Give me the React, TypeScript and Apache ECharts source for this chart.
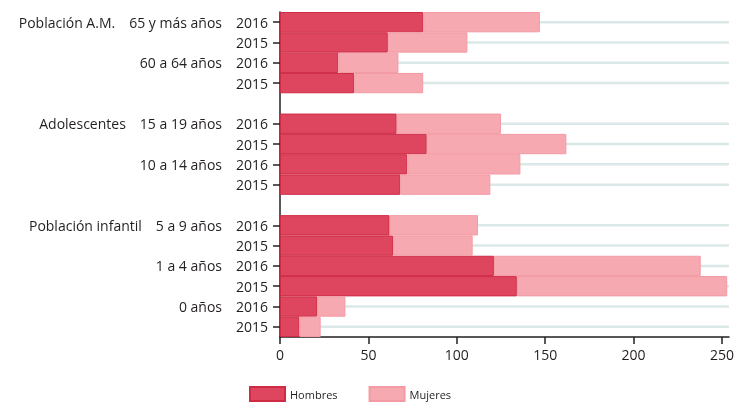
import React, { useEffect, useRef } from "react";
import * as echarts from "echarts";

// One row per bar slot, top to bottom; empty rows are the gaps between groups.
const rowGroups = [
  "Población A.M.", "", "", "", "",
  "Adolescentes", "", "", "", "",
  "Población infantil", "", "", "", "", "",
];
const rowAges = [
  "65 y más años", "", "60 a 64 años", "", "",
  "15 a 19 años", "", "10 a 14 años", "", "",
  "5 a 9 años", "", "1 a 4 años", "", "0 años", "",
];
const rowYears = [
  "2016", "2015", "2016", "2015", "",
  "2016", "2015", "2016", "2015", "",
  "2016", "2015", "2016", "2015", "2016", "2015",
];
const hombres = [81, 61, 33, 42, null, 66, 83, 72, 68, null, 62, 64, 121, 134, 21, 11];
const mujeres = [66, 45, 34, 39, null, 59, 79, 64, 51, null, 50, 45, 117, 119, 16, 12];
const xTicks = [0, 50, 100, 150, 200, 250];
const xMax = 254;

const FONT = "'Open Sans', 'DejaVu Sans', sans-serif";
const TEXT = "#231f20";

export default function App() {
  const ref = useRef<HTMLDivElement>(null);
  useEffect(() => {
    if (!ref.current) return;
    const chart = echarts.init(ref.current, undefined, { renderer: "svg" });
    const cats = rowYears.map((_, i) => String(i));
    const isEmpty = (i: number) => rowYears[i] === "";
    const gridLineData = rowYears.map((y) => (y === "" ? null : xMax));
    chart.setOption({
      animation: false,
      textStyle: { fontFamily: FONT },
      grid: { left: 280, right: 20, top: 12, bottom: 65, containLabel: false },
      legend: {
        left: 249,
        top: 386,
        padding: 0,
        itemWidth: 35,
        itemHeight: 14,
        itemGap: 31,
        icon: "rect",
        textStyle: { fontFamily: FONT, fontSize: 11, color: TEXT, lineHeight: 12 },
        data: ["Hombres", "Mujeres"],
      },
      xAxis: {
        type: "value",
        min: 0,
        max: xMax,
        interval: 50,
        splitLine: { show: false },
        axisLine: { show: true, lineStyle: { color: TEXT, width: 1.5 } },
        axisTick: { show: true, length: 7, customValues: xTicks, lineStyle: { color: TEXT, width: 1.5 } },
        axisLabel: { customValues: xTicks, fontFamily: FONT, fontSize: 14, color: TEXT, margin: 10 },
      },
      yAxis: [
        {
          type: "category",
          inverse: true,
          data: cats,
          axisLine: { show: true, lineStyle: { color: TEXT, width: 1.5 } },
          axisTick: {
            show: true,
            alignWithLabel: true,
            length: 7,
            interval: (i: number) => !isEmpty(i),
            lineStyle: { color: TEXT, width: 1.5 },
          },
          axisLabel: {
            interval: 0,
            margin: 12,
            fontFamily: FONT,
            fontSize: 14,
            color: TEXT,
            formatter: (_v: string, i: number) => {
              const parts: string[] = [];
              if (rowGroups[i]) parts.push(`{g|${rowGroups[i]}}`);
              if (rowAges[i]) parts.push(`{a|${rowAges[i]}}`);
              if (rowYears[i]) parts.push(`{y|${rowYears[i]}}`);
              return parts.join("");
            },
            rich: {
              g: { fontFamily: FONT, fontSize: 14, color: TEXT, padding: [0, 14, 0, 0] },
              a: { fontFamily: FONT, fontSize: 14, color: TEXT, padding: [0, 14, 0, 0] },
              y: { fontFamily: FONT, fontSize: 14, color: TEXT },
            },
          },
          splitLine: { show: false },
        },
        {
          type: "category",
          inverse: true,
          data: cats,
          show: false,
        },
      ],
      series: [
        {
          name: "gridlines",
          type: "bar",
          yAxisIndex: 1,
          data: gridLineData,
          barWidth: 2.5,
          silent: true,
          z: 1,
          itemStyle: { color: "#dbe8e8" },
          legendHoverLink: false,
        },
        {
          name: "Hombres",
          type: "bar",
          stack: "total",
          data: hombres,
          barCategoryGap: "0%",
          z: 3,
          itemStyle: { color: "#de4660", borderColor: "#cf2b45", borderWidth: 1 },
        },
        {
          name: "Mujeres",
          type: "bar",
          stack: "total",
          data: mujeres,
          barCategoryGap: "0%",
          z: 3,
          itemStyle: { color: "#f6a9b0", borderColor: "#f39aa4", borderWidth: 1 },
        },
      ],
    });
    return () => chart.dispose();
  }, []);
  return (
    <div
      ref={ref}
      style={{ position: "fixed", left: 0, top: 0, width: 749, height: 402 }}
    />
  );
}
